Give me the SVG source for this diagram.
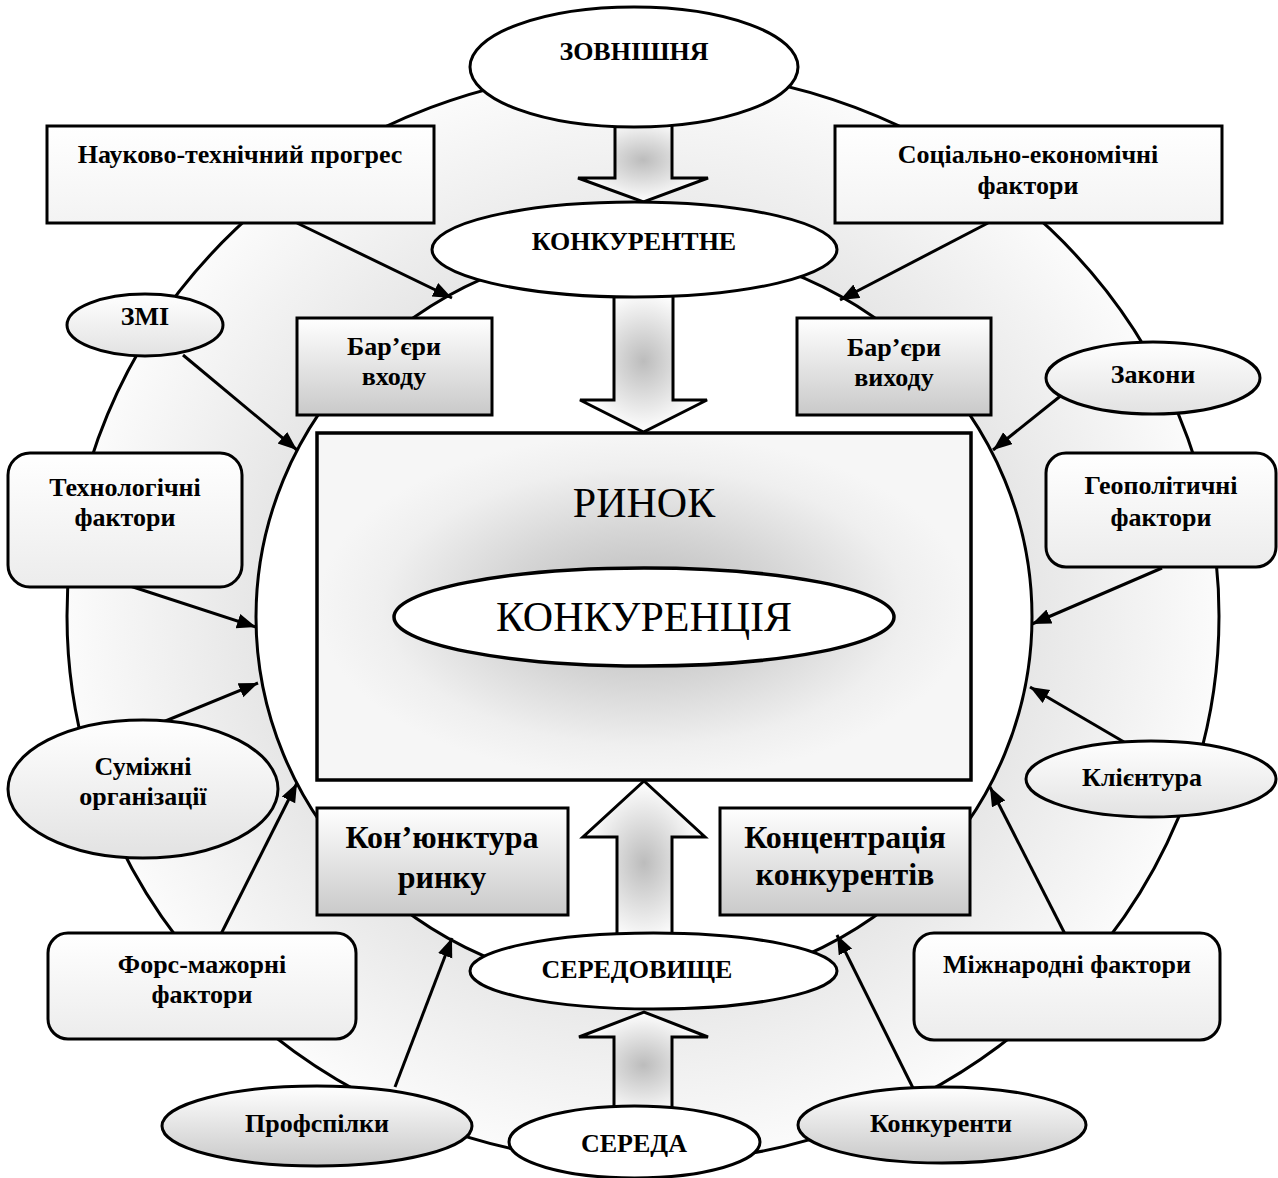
<svg xmlns="http://www.w3.org/2000/svg" width="1278" height="1178" viewBox="0 0 1278 1178">
  <defs>
    <radialGradient id="ringFill" cx="50%" cy="50%" r="50%">
      <stop offset="0" stop-color="#bdbdbd"/>
      <stop offset="0.6" stop-color="#e2e2e2"/>
      <stop offset="1" stop-color="#fbfbfb"/>
    </radialGradient>
    <radialGradient id="marketFill" cx="50%" cy="50%" r="50%">
      <stop offset="0" stop-color="#b9b9b9"/>
      <stop offset="0.45" stop-color="#d6d6d6"/>
      <stop offset="0.8" stop-color="#efefef"/>
      <stop offset="1" stop-color="#f6f6f6"/>
    </radialGradient>
    <radialGradient id="bigArrowFill" cx="50%" cy="50%" r="50%">
      <stop offset="0" stop-color="#bcbcbc"/>
      <stop offset="1" stop-color="#ffffff"/>
    </radialGradient>
    <linearGradient id="darkVert" x1="0" y1="0" x2="0" y2="1">
      <stop offset="0" stop-color="#ffffff"/>
      <stop offset="1" stop-color="#c9c9c9"/>
    </linearGradient>
    <linearGradient id="lightVert" x1="0" y1="0" x2="0" y2="1">
      <stop offset="0" stop-color="#ffffff"/>
      <stop offset="1" stop-color="#ececec"/>
    </linearGradient>
    <linearGradient id="paleVert" x1="0" y1="0" x2="0" y2="1">
      <stop offset="0" stop-color="#ffffff"/>
      <stop offset="1" stop-color="#f3f3f3"/>
    </linearGradient>
    <linearGradient id="ovalLight" x1="0" y1="0" x2="0" y2="1">
      <stop offset="0" stop-color="#ffffff"/>
      <stop offset="1" stop-color="#e2e2e2"/>
    </linearGradient>
    <linearGradient id="ovalGray" x1="0" y1="0" x2="0" y2="1">
      <stop offset="0" stop-color="#ffffff"/>
      <stop offset="1" stop-color="#c8c8c8"/>
    </linearGradient>
    <marker id="arrowHead" markerUnits="userSpaceOnUse" markerWidth="22" markerHeight="18" refX="19" refY="7.5" orient="auto">
      <path d="M0,0 L19,7.5 L0,15 Z" fill="#000"/>
    </marker>
  </defs>
  <style>
    .ln { stroke: #000; stroke-width: 3; }
    .lbl { font-family: "Liberation Serif", "Times New Roman", serif; font-weight: bold; font-size: 26px; text-anchor: middle; fill: #000; }
    .big { font-family: "Liberation Serif", "Times New Roman", serif; font-size: 32px; font-weight: bold; text-anchor: middle; fill: #000; }
    .title { font-family: "Liberation Serif", "Times New Roman", serif; font-size: 42px; text-anchor: middle; fill: #000; }
    .conn line { stroke: #000; stroke-width: 3; marker-end: url(#arrowHead); }
  </style>

  <!-- environment ring -->
  <g id="ring">
    <ellipse cx="643" cy="616" rx="576" ry="547" fill="url(#ringFill)" class="ln"/>
    <ellipse cx="644" cy="617" rx="388" ry="372" fill="#ffffff" class="ln"/>
  </g>

  <!-- market block -->
  <g id="market">
    <rect x="317" y="433" width="654" height="347" fill="url(#marketFill)" stroke="#000" stroke-width="3.5"/>
    <text class="title" x="644" y="517">РИНОК</text>
  </g>
  <g id="competition">
    <ellipse cx="644" cy="617" rx="250" ry="49" fill="#ffffff" stroke="#000" stroke-width="3.5"/>
    <text class="title" x="644" y="631">КОНКУРЕНЦІЯ</text>
  </g>

  <!-- block arrows along the vertical axis -->
  <g id="flow-arrows" fill="url(#bigArrowFill)" stroke="#000" stroke-width="3" stroke-linejoin="miter">
    <polygon points="615,118 672,118 672,178 708,178 643.5,202 578,178 615,178"/>
    <polygon points="614,290 673,290 673,400 707,400 643.5,432 580,400 614,400"/>
    <polygon points="617,945 672,945 672,837 705,837 644,781 583,837 617,837"/>
    <polygon points="614,1118 672,1118 672,1037 708,1037 644,1012 579,1037 614,1037"/>
  </g>

  <!-- connectors -->
  <g id="connectors" class="conn">
    <line x1="297" y1="223" x2="452" y2="298"/>
    <line x1="988" y1="223" x2="840" y2="300"/>
    <line x1="183" y1="355" x2="297" y2="450"/>
    <line x1="1063" y1="394" x2="993" y2="450"/>
    <line x1="130" y1="586" x2="256" y2="627"/>
    <line x1="1162" y1="568" x2="1032" y2="624"/>
    <line x1="163" y1="722" x2="258" y2="683"/>
    <line x1="1124" y1="742" x2="1030" y2="687"/>
    <line x1="221" y1="934" x2="297" y2="783"/>
    <line x1="1065" y1="934" x2="990" y2="787"/>
    <line x1="395" y1="1087" x2="452" y2="938"/>
    <line x1="913" y1="1088" x2="837" y2="935"/>
  </g>

  <!-- top axis -->
  <g id="external">
    <ellipse cx="634" cy="67" rx="164" ry="60" fill="#ffffff" class="ln"/>
    <text class="lbl" x="634" y="60">ЗОВНІШНЯ</text>
  </g>
  <g id="competitive">
    <ellipse cx="634.5" cy="249.5" rx="202.5" ry="47.5" fill="#ffffff" class="ln"/>
    <text class="lbl" x="634" y="250">КОНКУРЕНТНЕ</text>
  </g>

  <!-- upper factors -->
  <g id="sci-tech">
    <rect x="47" y="126" width="387" height="97" fill="url(#paleVert)" class="ln"/>
    <text class="lbl" x="240" y="163">Науково-технічний прогрес</text>
  </g>
  <g id="socio-economic">
    <rect x="835" y="126" width="387" height="97" fill="url(#paleVert)" class="ln"/>
    <text class="lbl" x="1028" y="163">Соціально-економічні</text>
    <text class="lbl" x="1028" y="194">фактори</text>
  </g>
  <g id="entry-barriers">
    <rect x="297" y="318" width="195" height="97" fill="url(#darkVert)" class="ln"/>
    <text class="lbl" x="394" y="355">Бар’єри</text>
    <text class="lbl" x="394" y="385">входу</text>
  </g>
  <g id="exit-barriers">
    <rect x="797" y="318" width="194" height="97" fill="url(#darkVert)" class="ln"/>
    <text class="lbl" x="894" y="356">Бар’єри</text>
    <text class="lbl" x="894" y="386">виходу</text>
  </g>

  <!-- left side factors -->
  <g id="media">
    <ellipse cx="145" cy="325" rx="78" ry="31" fill="url(#ovalLight)" class="ln"/>
    <text class="lbl" x="145" y="325">ЗМІ</text>
  </g>
  <g id="technological">
    <rect x="8" y="453" width="234" height="134" rx="22" fill="url(#lightVert)" class="ln"/>
    <text class="lbl" x="125" y="496">Технологічні</text>
    <text class="lbl" x="125" y="526">фактори</text>
  </g>
  <g id="related-orgs">
    <ellipse cx="143" cy="789" rx="135" ry="69" fill="url(#ovalLight)" class="ln"/>
    <text class="lbl" x="143" y="775">Суміжні</text>
    <text class="lbl" x="143" y="805">організації</text>
  </g>
  <g id="force-majeure">
    <rect x="48" y="933" width="308" height="106" rx="20" fill="url(#lightVert)" class="ln"/>
    <text class="lbl" x="202" y="973">Форс-мажорні</text>
    <text class="lbl" x="202" y="1003">фактори</text>
  </g>
  <g id="unions">
    <ellipse cx="317" cy="1126" rx="155" ry="40" fill="url(#ovalGray)" class="ln"/>
    <text class="lbl" x="317" y="1132">Профспілки</text>
  </g>

  <!-- right side factors -->
  <g id="laws">
    <ellipse cx="1153" cy="378" rx="107" ry="36" fill="url(#ovalLight)" class="ln"/>
    <text class="lbl" x="1153" y="383">Закони</text>
  </g>
  <g id="geopolitical">
    <rect x="1046" y="453" width="230" height="114" rx="20" fill="url(#lightVert)" class="ln"/>
    <text class="lbl" x="1161" y="494">Геополітичні</text>
    <text class="lbl" x="1161" y="526">фактори</text>
  </g>
  <g id="clientele">
    <ellipse cx="1151" cy="779" rx="125" ry="38" fill="url(#ovalLight)" class="ln"/>
    <text class="lbl" x="1142" y="786">Клієнтура</text>
  </g>
  <g id="international">
    <rect x="914" y="933" width="306" height="107" rx="20" fill="url(#lightVert)" class="ln"/>
    <text class="lbl" x="1067" y="973">Міжнародні фактори</text>
  </g>
  <g id="competitors">
    <ellipse cx="942" cy="1125" rx="144" ry="38" fill="url(#ovalGray)" class="ln"/>
    <text class="lbl" x="941" y="1132">Конкуренти</text>
  </g>

  <!-- lower inner blocks -->
  <g id="conjuncture">
    <rect x="317" y="808" width="251" height="107" fill="url(#darkVert)" class="ln"/>
    <text class="big" x="442" y="848">Кон’юнктура</text>
    <text class="big" x="442" y="888">ринку</text>
  </g>
  <g id="concentration">
    <rect x="720" y="808" width="250" height="107" fill="url(#darkVert)" class="ln"/>
    <text class="big" x="845" y="848">Концентрація</text>
    <text class="big" x="845" y="885">конкурентів</text>
  </g>

  <!-- bottom axis -->
  <g id="milieu">
    <ellipse cx="653.5" cy="971" rx="183.5" ry="38" fill="#ffffff" class="ln"/>
    <text class="lbl" x="637" y="978">СЕРЕДОВИЩЕ</text>
  </g>
  <g id="environment">
    <ellipse cx="634.5" cy="1142" rx="125.5" ry="36" fill="#ffffff" class="ln"/>
    <text class="lbl" x="634" y="1152">СЕРЕДА</text>
  </g>
</svg>
